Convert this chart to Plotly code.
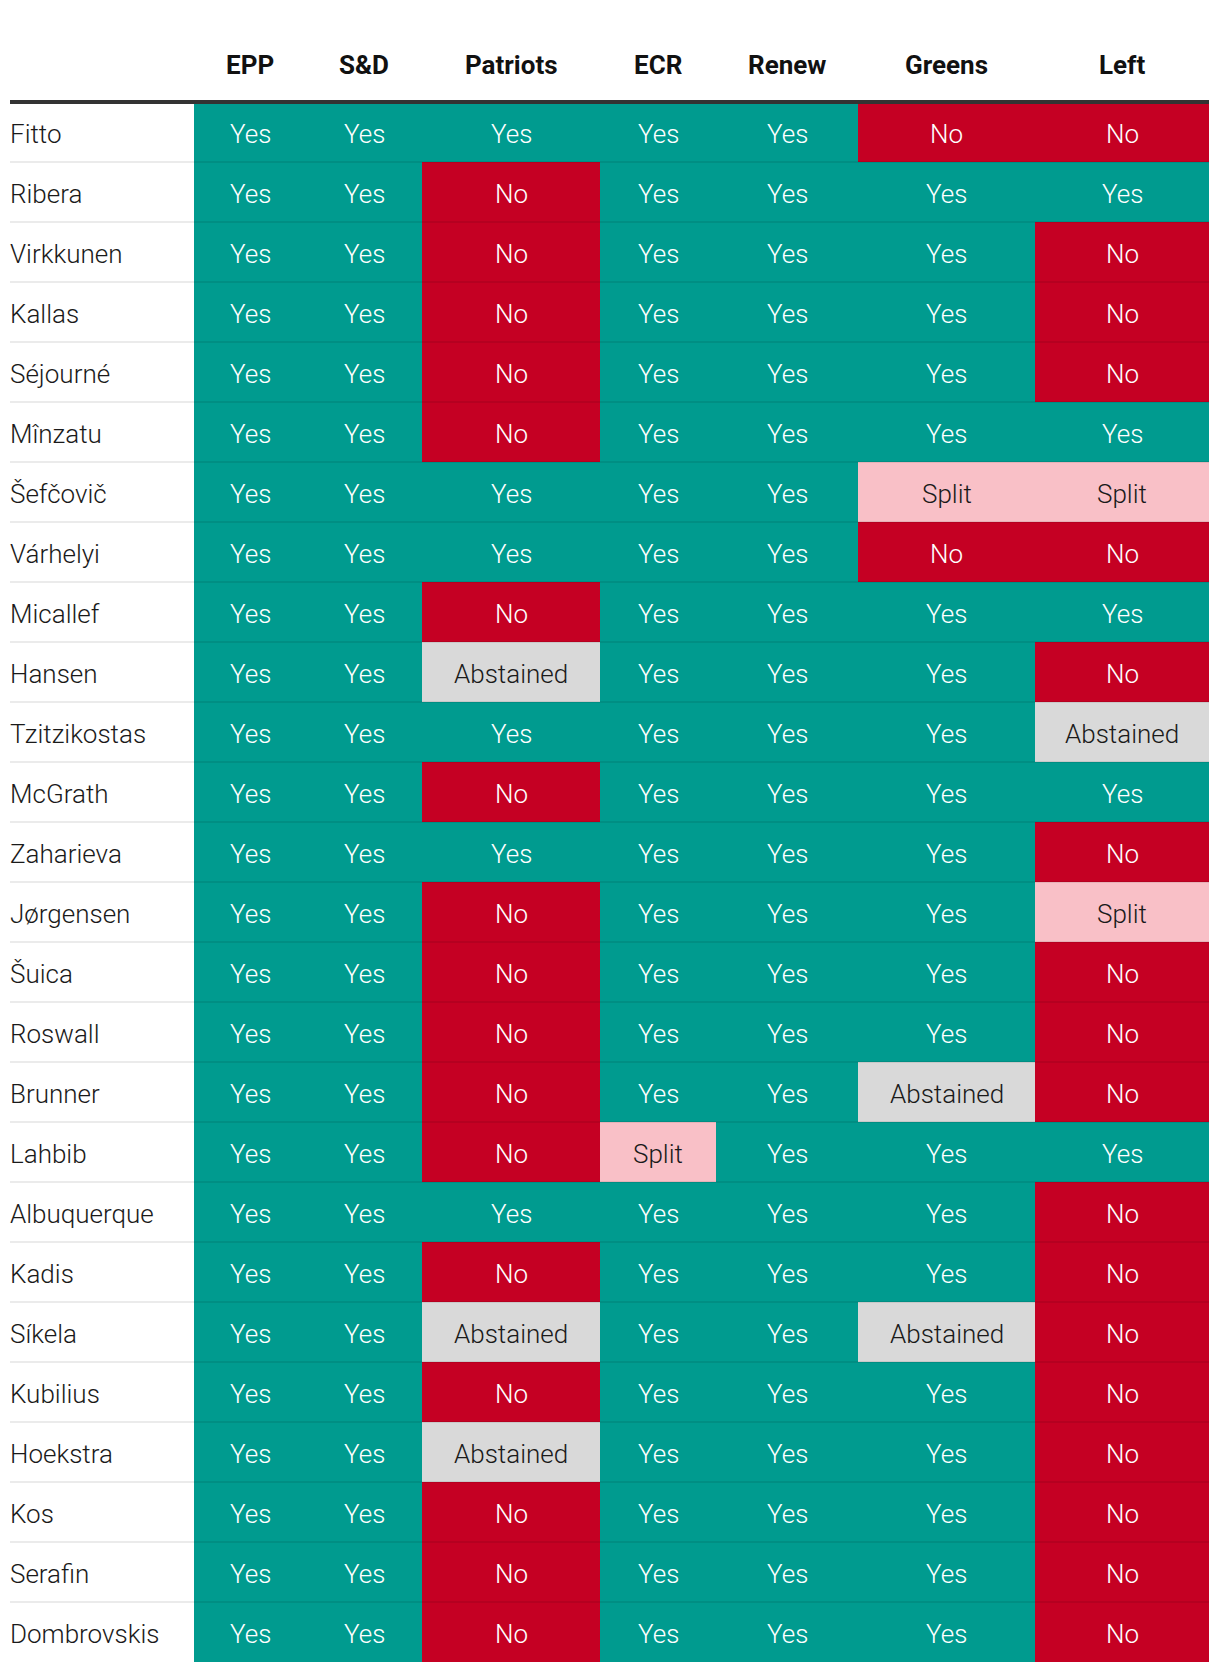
import plotly.graph_objects as go

# --- data -------------------------------------------------------------
commissioners = [
    "Fitto", "Ribera", "Virkkunen", "Kallas", "Séjourné", "Mînzatu",
    "Šefčovič", "Várhelyi", "Micallef", "Hansen", "Tzitzikostas", "McGrath",
    "Zaharieva", "Jørgensen", "Šuica", "Roswall", "Brunner", "Lahbib",
    "Albuquerque", "Kadis", "Síkela", "Kubilius", "Hoekstra", "Kos",
    "Serafin", "Dombrovskis",
]
parties = ["EPP", "S&D", "Patriots", "ECR", "Renew", "Greens", "Left"]

epp = ["Yes"] * 26
sd = ["Yes"] * 26
patriots = [
    "Yes", "No", "No", "No", "No", "No", "Yes", "Yes", "No", "Abstained",
    "Yes", "No", "Yes", "No", "No", "No", "No", "No", "Yes", "No",
    "Abstained", "No", "Abstained", "No", "No", "No",
]
ecr = [
    "Yes", "Yes", "Yes", "Yes", "Yes", "Yes", "Yes", "Yes", "Yes", "Yes",
    "Yes", "Yes", "Yes", "Yes", "Yes", "Yes", "Yes", "Split", "Yes", "Yes",
    "Yes", "Yes", "Yes", "Yes", "Yes", "Yes",
]
renew = ["Yes"] * 26
greens = [
    "No", "Yes", "Yes", "Yes", "Yes", "Yes", "Split", "No", "Yes", "Yes",
    "Yes", "Yes", "Yes", "Yes", "Yes", "Yes", "Abstained", "Yes", "Yes", "Yes",
    "Abstained", "Yes", "Yes", "Yes", "Yes", "Yes",
]
left = [
    "No", "Yes", "No", "No", "No", "Yes", "Split", "No", "Yes", "No",
    "Abstained", "Yes", "No", "Split", "No", "No", "No", "Yes", "No", "No",
    "No", "No", "No", "No", "No", "No",
]
votes = [epp, sd, patriots, ecr, renew, greens, left]

# --- style ------------------------------------------------------------
# page body has an 8px margin, so the figure is drawn 8px smaller
W, H = 1212, 1664
col_edges = [184, 296, 412, 590, 706, 848, 1025, 1199]  # pixel-like x units
codes = {"Yes": 0, "No": 1, "Split": 2, "Abstained": 3}
fills = ["#009b8f", "#c50023", "#f9c0c7", "#d9d9d9"]
text_dark = {"Split", "Abstained"}
FONT = "Roboto"
TXT_SHIFT = -2

n_rows = len(commissioners)
z = [[codes[votes[c][r]] for c in range(len(parties))] for r in range(n_rows)]
colorscale = []
for i, f in enumerate(fills):
    colorscale += [[i / len(fills), f], [(i + 1) / len(fills), f]]

fig = go.Figure()
fig.add_trace(go.Heatmap(
    z=z, x=col_edges, y=list(range(n_rows)),
    zmin=-0.5, zmax=3.5, colorscale=colorscale,
    showscale=False, hoverinfo="skip",
))

centers = [(col_edges[i] + col_edges[i + 1]) / 2 for i in range(len(parties))]
for c in range(len(parties)):
    for r in range(n_rows):
        v = votes[c][r]
        fig.add_annotation(
            x=centers[c], y=r, xref="x", yref="y", text=v, showarrow=False,
            yshift=TXT_SHIFT,
            font=dict(family=FONT, size=26, weight=300,
                      color="#1a1a1a" if v in text_dark else "white"),
        )

# names column
for r, name in enumerate(commissioners):
    fig.add_annotation(
        x=0, y=r, xref="x", yref="y", text=name, showarrow=False,
        xanchor="left", xshift=-2, yshift=TXT_SHIFT,
        font=dict(family=FONT, size=26, weight=300, color="#1a1a1a"),
    )

# row separators
for r in range(n_rows - 1):
    fig.add_shape(type="line", xref="x", yref="y", x0=0, x1=col_edges[-1],
                  y0=r + 0.5, y1=r + 0.5, line=dict(color="rgba(0,0,0,0.08)", width=2),
                  layer="above")
# header rule
fig.add_shape(type="line", xref="x", yref="paper", x0=0, x1=col_edges[-1],
              y0=1, y1=1, line=dict(color="#333333", width=4), layer="above")

for c, p in enumerate(parties):
    fig.add_annotation(x=centers[c], y=1, xref="x", yref="paper", text=f"<b>{p}</b>",
                       showarrow=False, yanchor="middle", yshift=37,
                       font=dict(family=FONT, size=26, color="#111111"))

fig.update_layout(
    width=W, height=H,
    margin=dict(l=2, r=W - 2 - col_edges[-1], t=94, b=10),
    paper_bgcolor="white", plot_bgcolor="white",
    xaxis=dict(range=[0, col_edges[-1]], visible=False, fixedrange=True),
    yaxis=dict(range=[n_rows - 0.5, -0.5], visible=False, fixedrange=True),
    showlegend=False,
)

fig.write_html("out.html")
